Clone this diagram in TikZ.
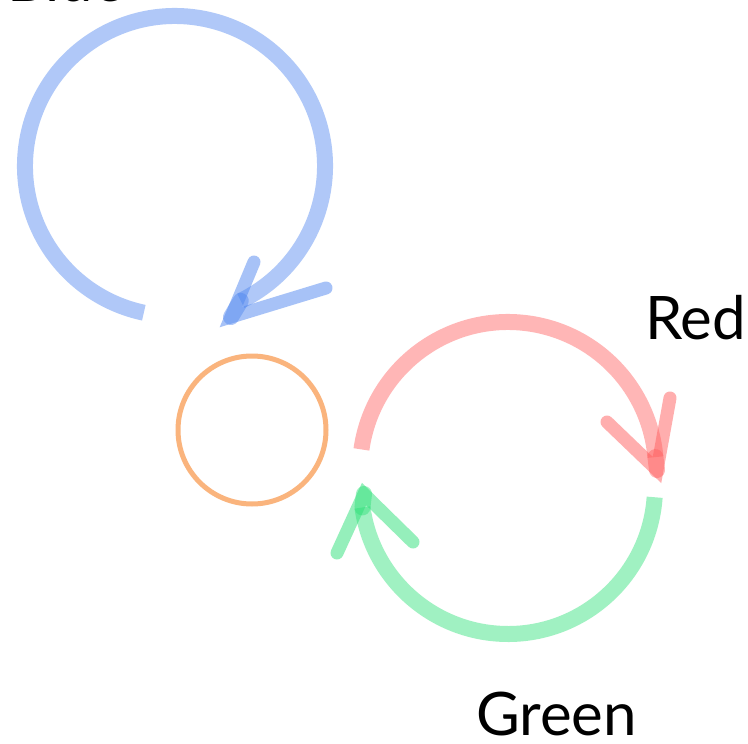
\documentclass[tikz,border=0pt]{standalone}
\usepackage{fontspec}
\setmainfont{Lato}
\usetikzlibrary{positioning,backgrounds,arrows}

\tikzset{
  stroke/.style={line width=16pt,line cap=round,draw opacity=0.45},
  barb/.style={stroke,line width=13pt,draw opacity=0.5},
  label/.style={font=\fontsize{60}{72}\selectfont,inner sep=0pt}
}
\definecolor{blueloop}{RGB}{80,135,240}
\definecolor{redloop}{RGB}{255,95,95}
\definecolor{greenloop}{RGB}{45,225,120}
\definecolor{corering}{RGB}{250,180,125}

\begin{document}
\begin{tikzpicture}[x=1pt,y=-1pt]
\useasboundingbox[fill=white] (0,0) rectangle (748,744);

\coordinate (bc) at (175,166);
\coordinate (rc) at (508,470);
\coordinate (gc) at (508,487);

% ring in the middle
\node[circle,draw=corering,line width=5pt,minimum size=148pt,inner sep=0pt] (core) at (252,430) {};

% blue loop
\draw[stroke,blueloop,line cap=butt] (bc) ++(102:150) arc[start angle=102,end angle=424,radius=150] coordinate (bend);
\coordinate (btip) at (231,317);
\draw[stroke,blueloop] (bend) -- (btip);
\draw[barb,blueloop] (254,262) -- (btip) -- (326,288);

% red loop
\draw[stroke,redloop,line cap=butt] (rc) ++(188:148) arc[start angle=188,end angle=355,radius=148] coordinate (rend);
\coordinate (rtip) at (657,470);
\draw[stroke,redloop] (rend) -- (rtip);
\draw[barb,redloop] (607,422) -- (rtip) -- (670,398);

% green loop
\draw[stroke,greenloop,line cap=butt] (gc) ++(4:147) arc[start angle=4,end angle=172,radius=147] coordinate (gend);
\coordinate (gtip) at (364,494);
\draw[stroke,greenloop] (gend) -- (gtip);
\draw[barb,greenloop] (337,553) -- (gtip) -- (413,542);

\node[label,anchor=base west] (blue) at (7,1.5) {Blue};
\node[label,anchor=base west] (red) at (645,339) {Red};
\node[label,anchor=base west] (green) at (476,735) {Green};

\end{tikzpicture}
\end{document}
